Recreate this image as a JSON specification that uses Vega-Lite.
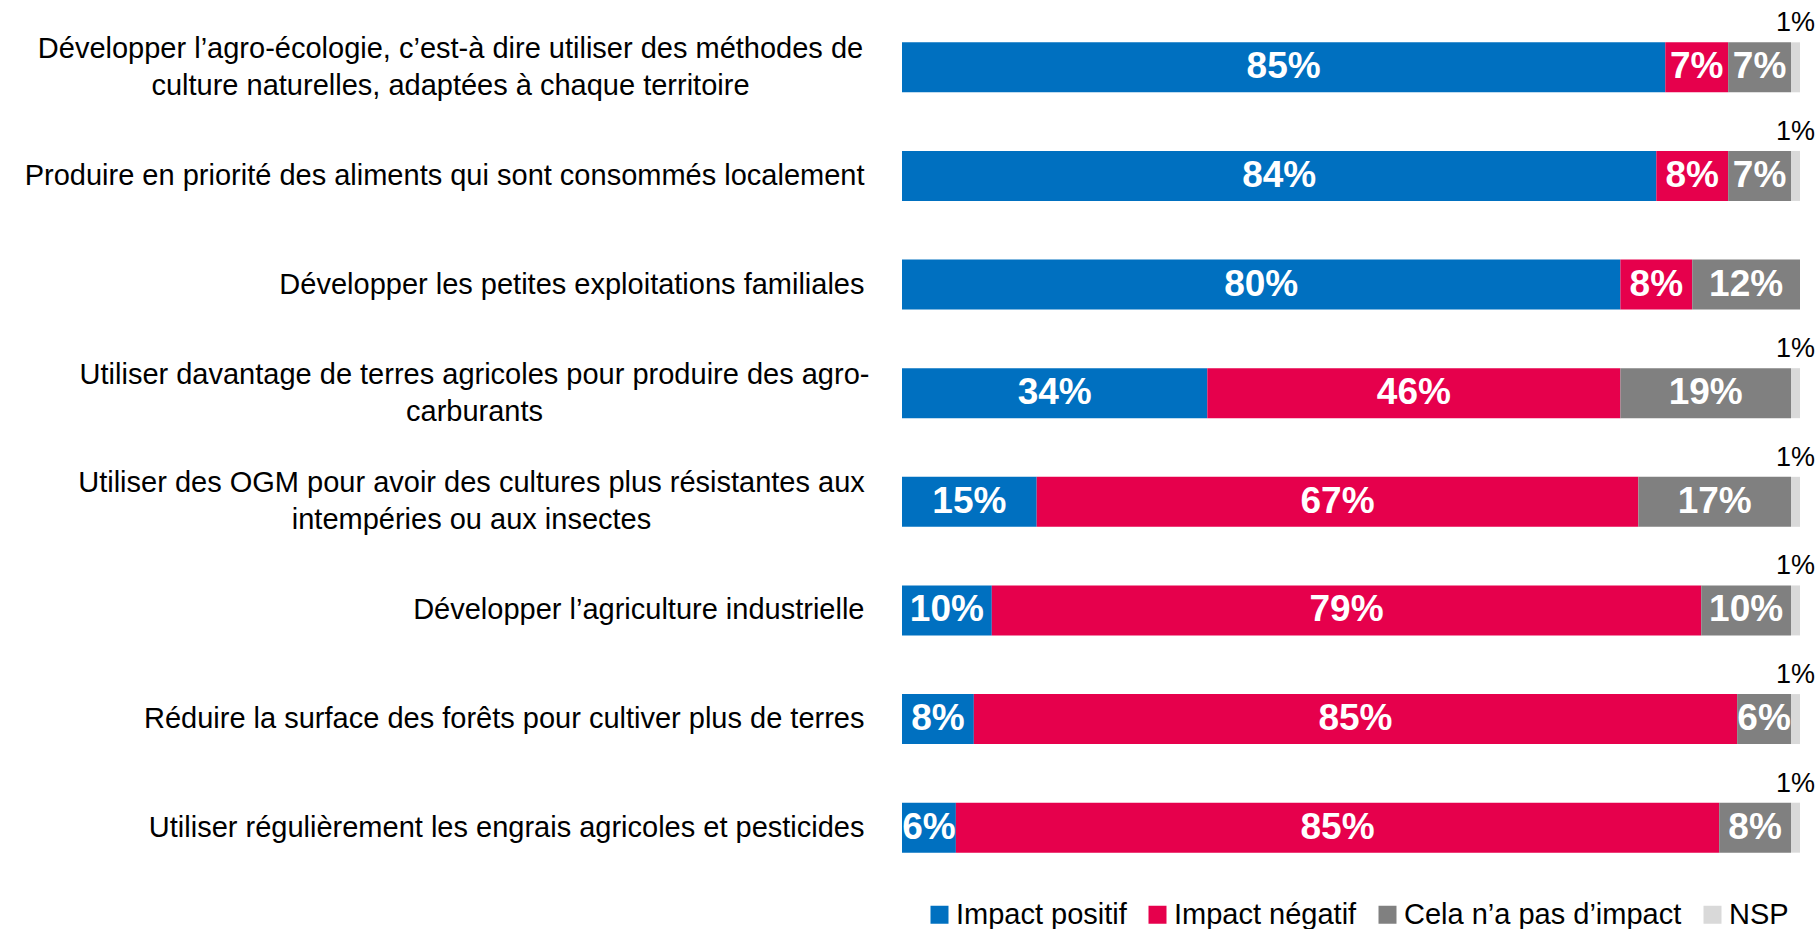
{
  "$schema": "https://vega.github.io/schema/vega-lite/v6.json",
  "width": 898,
  "height": 869,
  "autosize": {"type": "none"},
  "padding": {"left": 902, "top": 13, "right": 18, "bottom": 47},
  "background": "white",
  "config": {"view": {"stroke": null}, "font": "Liberation Sans"},
  "data": {
    "values": [
      {"q": "Développer l’agro-écologie, c’est-à dire utiliser des méthodes de|culture naturelles, adaptées à chaque territoire", "c": "Impact positif", "o": 1, "v": 0.85},
      {"q": "Développer l’agro-écologie, c’est-à dire utiliser des méthodes de|culture naturelles, adaptées à chaque territoire", "c": "Impact négatif", "o": 2, "v": 0.07},
      {"q": "Développer l’agro-écologie, c’est-à dire utiliser des méthodes de|culture naturelles, adaptées à chaque territoire", "c": "Cela n’a pas d’impact", "o": 3, "v": 0.07},
      {"q": "Développer l’agro-écologie, c’est-à dire utiliser des méthodes de|culture naturelles, adaptées à chaque territoire", "c": "NSP", "o": 4, "v": 0.01},
      {"q": "Produire en priorité des aliments qui sont consommés localement", "c": "Impact positif", "o": 1, "v": 0.84},
      {"q": "Produire en priorité des aliments qui sont consommés localement", "c": "Impact négatif", "o": 2, "v": 0.08},
      {"q": "Produire en priorité des aliments qui sont consommés localement", "c": "Cela n’a pas d’impact", "o": 3, "v": 0.07},
      {"q": "Produire en priorité des aliments qui sont consommés localement", "c": "NSP", "o": 4, "v": 0.01},
      {"q": "Développer les petites exploitations familiales", "c": "Impact positif", "o": 1, "v": 0.80},
      {"q": "Développer les petites exploitations familiales", "c": "Impact négatif", "o": 2, "v": 0.08},
      {"q": "Développer les petites exploitations familiales", "c": "Cela n’a pas d’impact", "o": 3, "v": 0.12},
      {"q": "Développer les petites exploitations familiales", "c": "NSP", "o": 4, "v": 0},
      {"q": "Utiliser davantage de terres agricoles pour produire des agro-|carburants", "c": "Impact positif", "o": 1, "v": 0.34},
      {"q": "Utiliser davantage de terres agricoles pour produire des agro-|carburants", "c": "Impact négatif", "o": 2, "v": 0.46},
      {"q": "Utiliser davantage de terres agricoles pour produire des agro-|carburants", "c": "Cela n’a pas d’impact", "o": 3, "v": 0.19},
      {"q": "Utiliser davantage de terres agricoles pour produire des agro-|carburants", "c": "NSP", "o": 4, "v": 0.01},
      {"q": "Utiliser des OGM pour avoir des cultures plus résistantes aux|intempéries ou aux insectes", "c": "Impact positif", "o": 1, "v": 0.15},
      {"q": "Utiliser des OGM pour avoir des cultures plus résistantes aux|intempéries ou aux insectes", "c": "Impact négatif", "o": 2, "v": 0.67},
      {"q": "Utiliser des OGM pour avoir des cultures plus résistantes aux|intempéries ou aux insectes", "c": "Cela n’a pas d’impact", "o": 3, "v": 0.17},
      {"q": "Utiliser des OGM pour avoir des cultures plus résistantes aux|intempéries ou aux insectes", "c": "NSP", "o": 4, "v": 0.01},
      {"q": "Développer l’agriculture industrielle", "c": "Impact positif", "o": 1, "v": 0.10},
      {"q": "Développer l’agriculture industrielle", "c": "Impact négatif", "o": 2, "v": 0.79},
      {"q": "Développer l’agriculture industrielle", "c": "Cela n’a pas d’impact", "o": 3, "v": 0.10},
      {"q": "Développer l’agriculture industrielle", "c": "NSP", "o": 4, "v": 0.01},
      {"q": "Réduire la surface des forêts pour cultiver plus de terres", "c": "Impact positif", "o": 1, "v": 0.08},
      {"q": "Réduire la surface des forêts pour cultiver plus de terres", "c": "Impact négatif", "o": 2, "v": 0.85},
      {"q": "Réduire la surface des forêts pour cultiver plus de terres", "c": "Cela n’a pas d’impact", "o": 3, "v": 0.06},
      {"q": "Réduire la surface des forêts pour cultiver plus de terres", "c": "NSP", "o": 4, "v": 0.01},
      {"q": "Utiliser régulièrement les engrais agricoles et pesticides", "c": "Impact positif", "o": 1, "v": 0.06},
      {"q": "Utiliser régulièrement les engrais agricoles et pesticides", "c": "Impact négatif", "o": 2, "v": 0.85},
      {"q": "Utiliser régulièrement les engrais agricoles et pesticides", "c": "Cela n’a pas d’impact", "o": 3, "v": 0.08},
      {"q": "Utiliser régulièrement les engrais agricoles et pesticides", "c": "NSP", "o": 4, "v": 0.01}
    ]
  },
  "transform": [
    {"stack": "v", "groupby": ["q"], "sort": [{"field": "o", "order": "ascending"}], "as": ["x0", "x1"]},
    {"calculate": "(datum.x0 + datum.x1) / 2", "as": "mid"}
  ],
  "encoding": {
    "y": {
      "field": "q",
      "type": "nominal",
      "sort": null,
      "scale": {"paddingInner": 0.54, "paddingOuter": 0.27},
      "axis": {
        "title": null,
        "domain": false,
        "ticks": false,
        "labelFontSize": 29,
        "labelColor": "#000000",
        "labelLineHeight": 37,
        "labelLimit": 1000,
        "labelExpr": "split(datum.value, '|')",
        "labelAlign": {"condition": {"test": "indexof(datum.value, '|') >= 0", "value": "center"}, "value": "right"},
        "labelOffset": {"condition": {"test": "indexof(datum.value, '|') >= 0", "value": -18.5}, "value": 0},
        "labelPadding": {
          "condition": [
            {"test": "indexof(datum.value, 'agro-écologie') >= 0", "value": 452},
            {"test": "indexof(datum.value, 'agro-|') >= 0", "value": 428},
            {"test": "indexof(datum.value, 'OGM') >= 0", "value": 431}
          ],
          "value": 38
        }
      }
    }
  },
  "layer": [
    {
      "mark": {"type": "bar"},
      "encoding": {
        "x": {"field": "x0", "type": "quantitative", "scale": {"domain": [0, 1], "nice": false, "zero": true}, "axis": null},
        "x2": {"field": "x1"},
        "color": {
          "field": "c",
          "type": "nominal",
          "sort": null,
          "scale": {
            "domain": ["Impact positif", "Impact négatif", "Cela n’a pas d’impact", "NSP"],
            "range": ["#0070C0", "#E6004C", "#808080", "#D9D9D9"]
          },
          "legend": {
            "title": null,
            "orient": "none",
            "direction": "horizontal",
            "legendX": 23,
            "legendY": 887,
            "padding": 0,
            "symbolType": "square",
            "symbolSize": 324,
            "symbolStrokeWidth": 0,
            "symbolOpacity": 1,
            "labelFontSize": 29,
            "labelColor": "#000000",
            "labelOffset": 2,
            "columnPadding": 16,
            "labelLimit": 600
          }
        }
      }
    },
    {
      "transform": [{"filter": "datum.c != 'NSP'"}],
      "mark": {"type": "text", "color": "white", "fontWeight": "bold", "fontSize": 37, "baseline": "middle", "align": "center"},
      "encoding": {
        "x": {"field": "mid", "type": "quantitative"},
        "text": {"field": "v", "type": "quantitative", "format": ".0%"}
      }
    },
    {
      "transform": [{"filter": "datum.c == 'NSP' && datum.v > 0"}],
      "mark": {"type": "text", "color": "black", "fontSize": 27, "baseline": "alphabetic", "align": "center", "dy": -36},
      "encoding": {
        "x": {"field": "mid", "type": "quantitative"},
        "text": {"field": "v", "type": "quantitative", "format": ".0%"}
      }
    }
  ]
}
